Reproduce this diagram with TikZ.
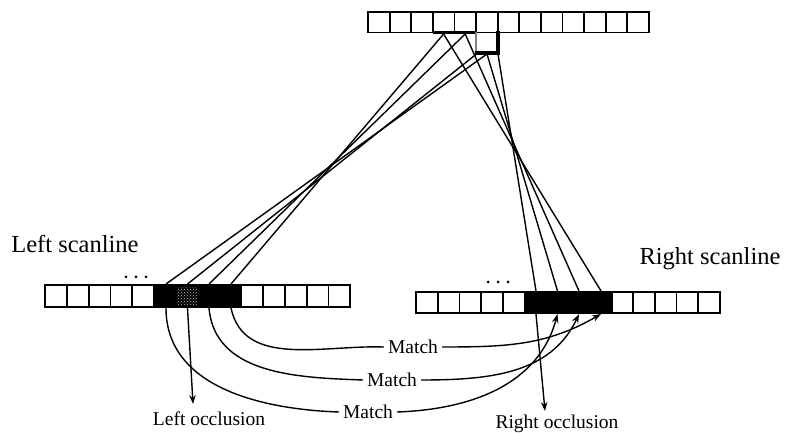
\documentclass[tikz,border=0pt]{standalone}
\usepackage{fontspec}
\setmainfont{Liberation Serif}
\usetikzlibrary{arrows.meta,patterns}
\begin{document}
\begin{tikzpicture}[x=1pt,y=-1pt,
  cell/.style={draw=black,line width=1.8pt,fill=white},
  ray/.style={line width=1.4pt},
  arr/.style={line width=1.4pt,-{Stealth[length=9pt,width=6.5pt]}},
  lbl/.style={font=\fontsize{19.5}{22}\selectfont,inner sep=4pt},
  big/.style={font=\fontsize{24.5}{28}\selectfont,inner sep=0pt}]
\useasboundingbox (0,0) rectangle (785,435);

% ---- top row ----
\foreach \i in {0,...,12} \draw[cell] ({368+21.6*\i},12) rectangle ++(21.6,20.5);
\draw[line width=3.8pt] (432.8,32.5) -- (476,32.5);
\draw[gray,line width=1.2pt] (476,32.5) -- (476,53);
\draw[line width=3.8pt] (497.6,31) -- (497.6,53) -- (474.5,53);

% ---- left scanline ----
\foreach \i in {0,...,4,9,10,11,12,13} \draw[cell] ({45+21.8*\i},285) rectangle ++(21.8,22);
\fill (154,284) rectangle (242,308);
\fill[pattern=crosshatch dots,pattern color=white!75!black] (177,288) rectangle (197,305);
\foreach \x in {126,136,146} \fill (\x,277) circle (1.5);

% ---- right scanline ----
\foreach \i in {0,...,4,9,10,11,12,13} \draw[cell] ({416+21.7*\i},292) rectangle ++(21.7,21);
\fill (524.5,291) rectangle (612.5,314);
\foreach \x in {488,498,508} \fill (\x,282) circle (1.5);

% ---- named points ----
\coordinate (P1) at (443.6,34);
\coordinate (P2) at (465.2,34);
\coordinate (P3) at (476.5,54);
\coordinate (P4) at (487,54);
\coordinate (P5) at (498,54);
\coordinate (LT1) at (166,284);   \coordinate (LB1) at (166,308);
\coordinate (LT2) at (187.5,284); \coordinate (LB2) at (187.5,308);
\coordinate (LT3) at (209,284);   \coordinate (LB3) at (209,308);
\coordinate (LT4) at (231,284);   \coordinate (LB4) at (231,308);
\coordinate (RT1) at (536,291);   \coordinate (RB1) at (536,314);
\coordinate (RT2) at (557.5,291); \coordinate (RB2) at (557.5,314);
\coordinate (RT3) at (579,291);   \coordinate (RB3) at (579,314);
\coordinate (RT4) at (601,291);   \coordinate (RB4) at (601,314);
\coordinate (lotip) at (193,404);
\coordinate (rotip) at (545,411);

% ---- rays ----
\draw[ray] (LT4) -- (P1);
\draw[ray] (LT3) -- (P2);
\draw[ray] (LT2) -- (P3);
\draw[ray] (LT1) -- (P4);
\draw[ray] (RT4) -- (P1);
\draw[ray] (RT3) -- (P2);
\draw[ray] (RT2) -- (P4);
\draw[ray] (RT1) -- (P5);

% ---- labels ----
\node[big] (ls) at (75,244) {Left scanline};
\node[big] (rs) at (710,259) {Right scanline};
\node[lbl] (m1) at (413,347) {Match};
\node[lbl] (m2) at (392,380) {Match};
\node[lbl] (m3) at (368,412) {Match};
\node[lbl,inner sep=0pt] (lo) at (209,419) {Left occlusion};
\node[lbl,inner sep=0pt] (ro) at (557,424) {Right occlusion};

% ---- occlusion arrows ----
\draw[arr] (LB2) -- (lotip);
\draw[arr] (RB1) -- (rotip);

% ---- match curves ----
\draw[ray] (LB4) to[out=-78,in=178] (m1.west);
\draw[arr] (m1.east) to[out=0,in=-150] (RB4);
\draw[ray] (LB3) to[out=-85,in=178] (m2.west);
\draw[arr] (m2.east) to[out=0,in=-115] (RB3);
\draw[ray] (LB1) to[out=-90,in=178] (m3.west);
\draw[arr] (m3.east) to[out=2,in=-105] (RB2);
\end{tikzpicture}
\end{document}
